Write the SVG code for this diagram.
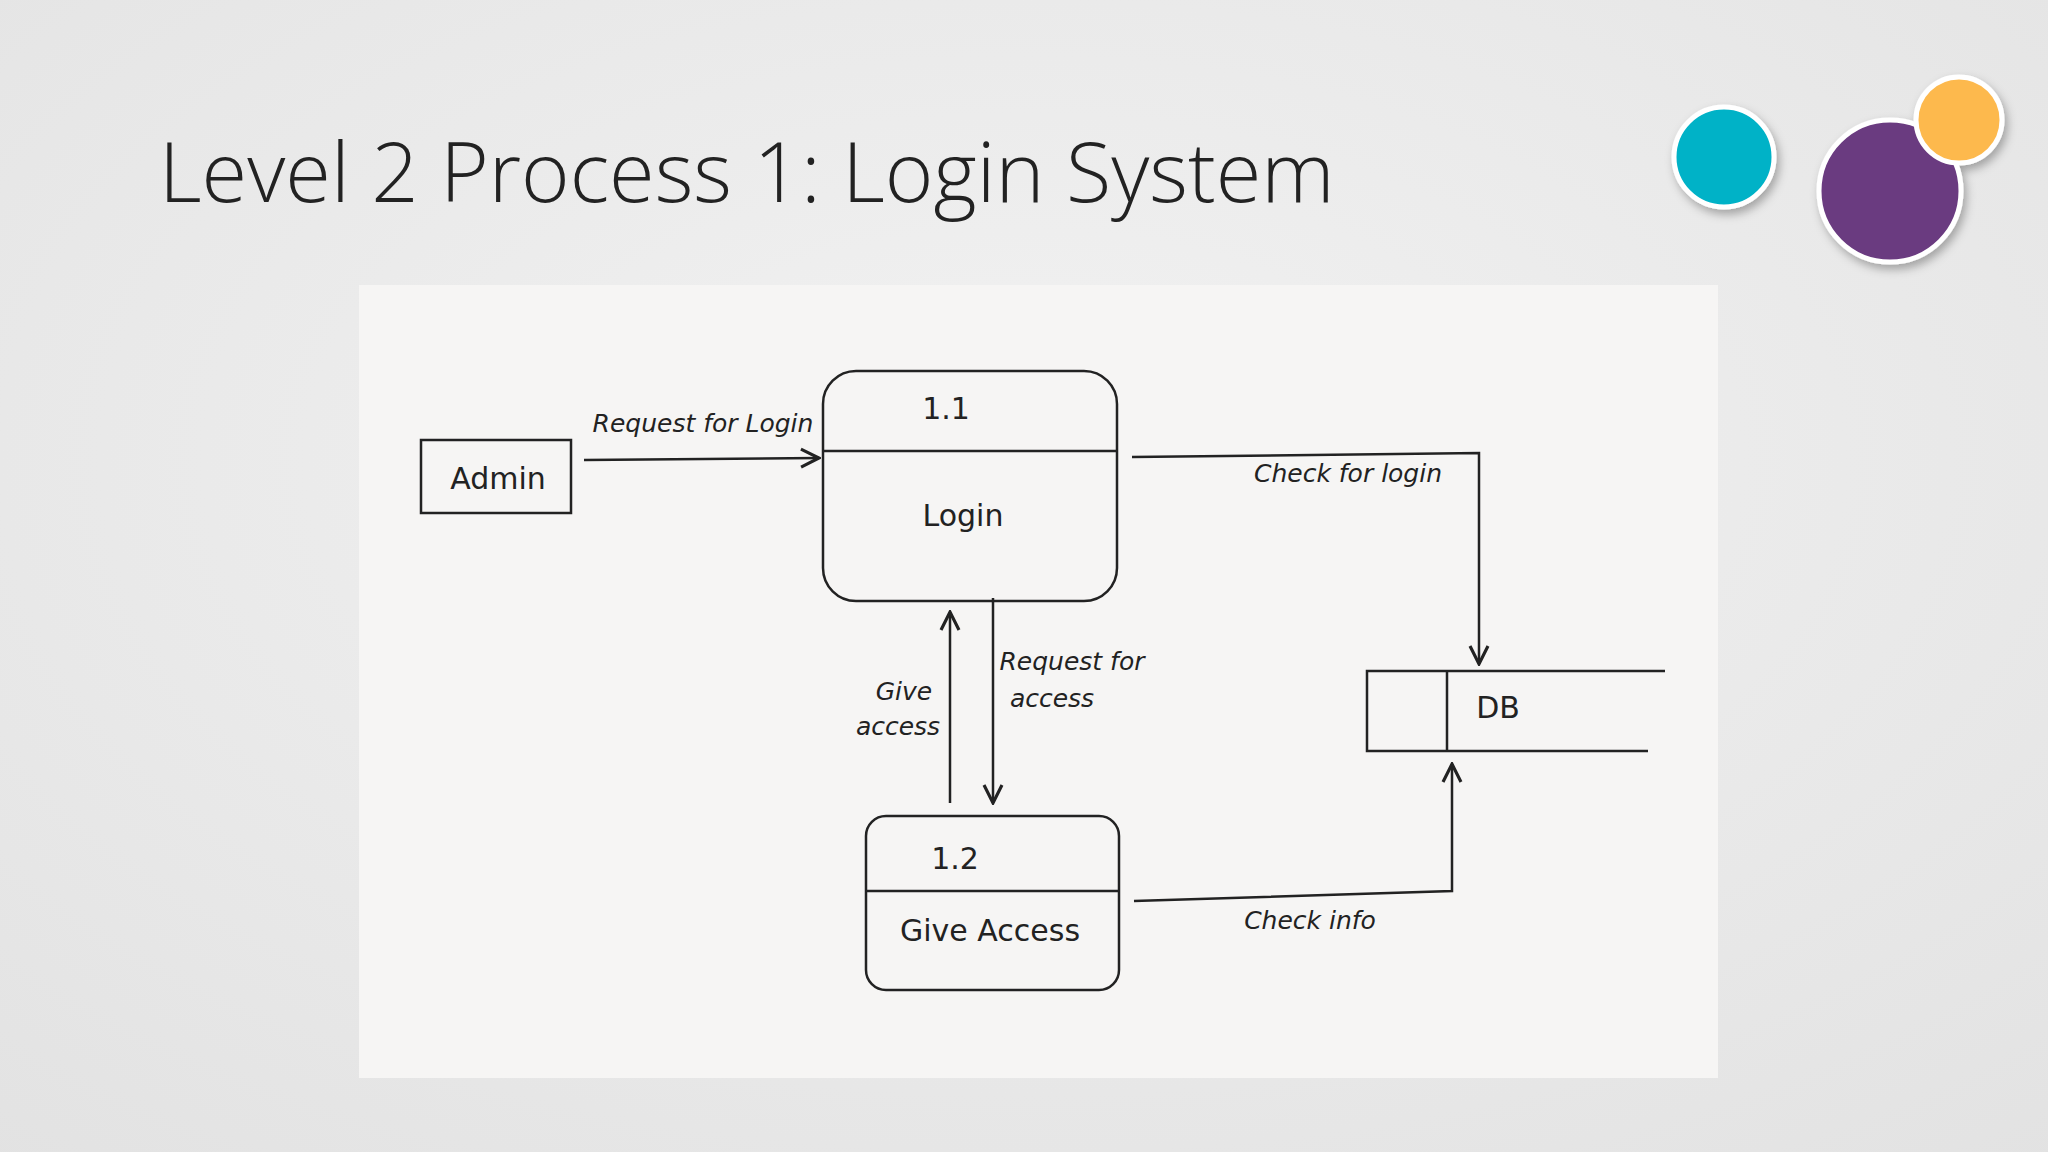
<svg xmlns="http://www.w3.org/2000/svg" width="2048" height="1152" viewBox="0 0 2048 1152">
<defs>
<radialGradient id="bg" cx="0.5" cy="0.4" r="0.8"><stop offset="0" stop-color="#f2f2f2"/><stop offset="1" stop-color="#e2e2e2"/></radialGradient>
<marker id="ah" viewBox="0 0 10 10" refX="9" refY="5" markerWidth="9" markerHeight="9" orient="auto"><path d="M1,1 L9,5 L1,9" fill="none" stroke="#222" stroke-width="1.4"/></marker>
<filter id="sh" x="-30%" y="-30%" width="160%" height="160%"><feDropShadow dx="3" dy="5" stdDeviation="5" flood-opacity="0.3"/></filter>
</defs>
<style>
.ln{fill:none;stroke:#222;stroke-width:2.5}
.hw{font-family:"DejaVu Sans",sans-serif;font-size:30px;fill:#222;text-anchor:middle}
.lb{font-family:"DejaVu Sans",sans-serif;font-size:25px;fill:#222;text-anchor:middle;font-style:italic}
</style>
<rect width="2048" height="1152" fill="url(#bg)"/>
<text x="159" y="202" font-family="'Open Sans',sans-serif" font-weight="300" font-size="83" fill="#222">Level 2 Process 1: Login System</text>
<g id="deco" filter="url(#sh)">
<circle cx="1724" cy="157" r="50" fill="#00b2c7" stroke="#fff" stroke-width="5"/>
<circle cx="1890" cy="191" r="71" fill="#6a3a80" stroke="#fff" stroke-width="5"/>
<circle cx="1959" cy="120" r="43" fill="#fdb94d" stroke="#fff" stroke-width="5"/>
</g>
<rect x="359" y="285" width="1359" height="793" fill="#f6f5f4"/>
<g id="admin"><rect class="ln" x="421" y="440" width="150" height="73"/><text class="hw" x="498" y="489">Admin</text></g>
<g id="p11"><rect class="ln" x="823" y="371" width="294" height="230" rx="33"/><line class="ln" x1="823" y1="451" x2="1117" y2="451"/><text class="hw" x="946" y="419">1.1</text><text class="hw" x="963" y="526">Login</text></g>
<g id="p12"><rect class="ln" x="866" y="816" width="253" height="174" rx="20"/><line class="ln" x1="866" y1="891" x2="1119" y2="891"/><text class="hw" x="955" y="869">1.2</text><text class="hw" x="990" y="941">Give Access</text></g>
<g id="db"><path class="ln" d="M1665,671 H1367 V751 H1648 M1447,671 V751"/><text class="hw" x="1498" y="718">DB</text></g>
<g id="connectors">
<line class="ln" x1="584" y1="460" x2="819" y2="458" marker-end="url(#ah)"/>
<text class="lb" x="703" y="432">Request for Login</text>
<path class="ln" d="M1132,457 L1479,453 V664" marker-end="url(#ah)"/>
<text class="lb" x="1348" y="482">Check for login</text>
<line class="ln" x1="950" y1="803" x2="950" y2="612" marker-end="url(#ah)"/>
<text class="lb" x="904" y="700">Give</text><text class="lb" x="898" y="735">access</text>
<line class="ln" x1="993" y1="598" x2="993" y2="803" marker-end="url(#ah)"/>
<text class="lb" x="1072" y="670">Request for</text><text class="lb" x="1052" y="707">access</text>
<path class="ln" d="M1134,901 L1452,891 V764" marker-end="url(#ah)"/>
<text class="lb" x="1310" y="929">Check info</text>
</g>
</svg>
